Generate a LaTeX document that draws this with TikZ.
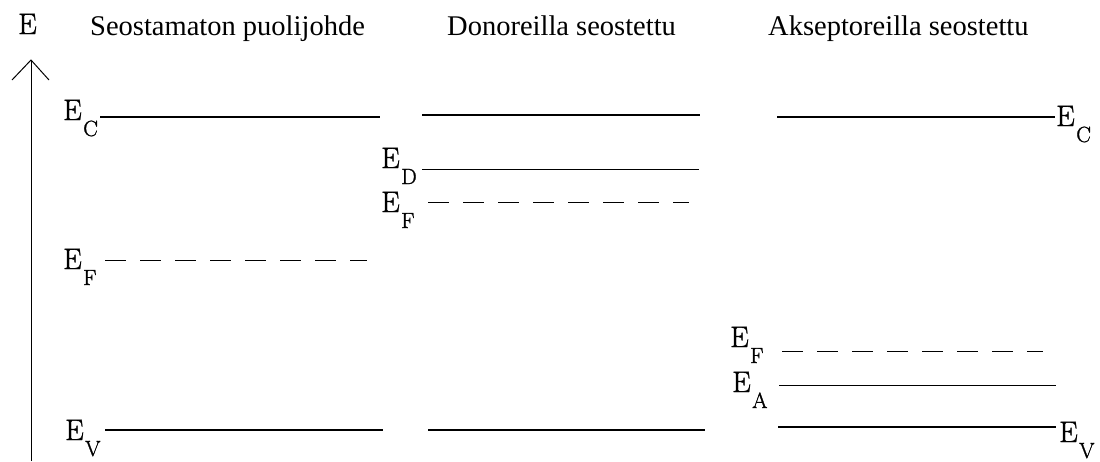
\documentclass[tikz,border=0pt]{standalone}
\usepackage{fontspec}
\newfontfamily\titlefont{Liberation Serif}
\newfontfamily\labfont[FakeBold=1.2]{Latin Modern Roman}
\newcommand{\lvl}[1]{E\kern1.5pt\raisebox{-16pt}{\labfont\fontsize{22}{22}\selectfont #1}}
\begin{document}
\begin{tikzpicture}[x=1pt,y=-1pt,
  lab/.style={inner sep=0pt,anchor=base west,font=\labfont\fontsize{29.5}{30}\selectfont},
  ttl/.style={inner sep=0pt,anchor=base west,font=\titlefont\fontsize{28.5}{30}\selectfont},
  band/.style={line width=2pt},
  thinlev/.style={line width=1pt},
  fermi/.style={line width=1pt,dash pattern=on 21pt off 14pt}]
\path[use as bounding box,fill=white] (0,0) rectangle (1100,461);
% axis
\coordinate (ax0) at (31,461);
\coordinate (ax1) at (31,60);
\coordinate (arL) at (12,80);
\coordinate (arR) at (49,80);
\draw[line width=1pt] (ax0) -- (ax1);
\draw[line width=1pt] (arL) -- (ax1) -- (arR);
\node[lab] (E) at (18,34) {E};
% titles
\node[ttl] (t1) at (90,35) {Seostamaton puolijohde};
\node[ttl] (t2) at (447,35) {Donoreilla seostettu};
\node[ttl] (t3) at (768,35) {Akseptoreilla seostettu};
% column 1
\node[lab] (c1C) at (63,120) {\lvl{C}};
\coordinate (c1Ca) at (100,117); \coordinate (c1Cb) at (380,117);
\draw[band] (c1Ca) -- (c1Cb);
\node[lab] (c1F) at (63,269) {\lvl{F}};
\coordinate (c1Fa) at (105,260); \coordinate (c1Fb) at (367,260);
\draw[fermi] (c1Fa) -- (c1Fb);
\node[lab] (c1V) at (65,440) {\lvl{V}};
\coordinate (c1Va) at (105,430); \coordinate (c1Vb) at (383,430);
\draw[band] (c1Va) -- (c1Vb);
% column 2
\coordinate (c2Ca) at (422,115); \coordinate (c2Cb) at (700,115);
\draw[band] (c2Ca) -- (c2Cb);
\node[lab] (c2D) at (381,168) {\lvl{D}};
\coordinate (c2Da) at (422,169); \coordinate (c2Db) at (699,169);
\draw[thinlev] (c2Da) -- (c2Db);
\node[lab] (c2F) at (381,212) {\lvl{F}};
\coordinate (c2Fa) at (428,202); \coordinate (c2Fb) at (689,202);
\draw[fermi] (c2Fa) -- (c2Fb);
\coordinate (c2Va) at (428,430); \coordinate (c2Vb) at (705,430);
\draw[band] (c2Va) -- (c2Vb);
% column 3
\coordinate (c3Ca) at (777,117); \coordinate (c3Cb) at (1055,117);
\draw[band] (c3Ca) -- (c3Cb);
\node[lab] (c3C) at (1056,126) {\lvl{C}};
\node[lab] (c3F) at (730,347) {\lvl{F}};
\coordinate (c3Fa) at (782,351); \coordinate (c3Fb) at (1043,351);
\draw[fermi] (c3Fa) -- (c3Fb);
\node[lab] (c3A) at (732,392) {\lvl{A}};
\coordinate (c3Aa) at (779,385); \coordinate (c3Ab) at (1056,385);
\draw[thinlev] (c3Aa) -- (c3Ab);
\coordinate (c3Va) at (778,427); \coordinate (c3Vb) at (1056,427);
\draw[band] (c3Va) -- (c3Vb);
\node[lab] (c3V) at (1059,442) {\lvl{V}};
\end{tikzpicture}
\end{document}
